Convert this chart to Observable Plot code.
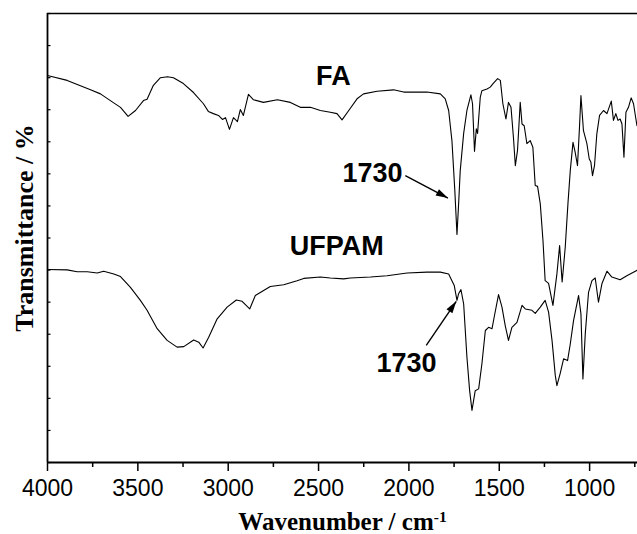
<!DOCTYPE html>
<html><head><meta charset="utf-8">
<script src="https://cdn.jsdelivr.net/npm/d3@7"></script>
<script src="https://cdn.jsdelivr.net/npm/@observablehq/plot@0.6"></script>
<style>body{margin:0;background:#fff} svg{display:block}</style>
</head><body><div id="chart"></div>
<script>
// FA spectrum (wavenumber cm^-1, transmittance a.u.)
const faWavenumber = [4000,3891,3762,3707,3652,3596,3554,3513,3469,3449,3414,3375,3336,3303,3248,3192,3137,3110,3082,3054,3032,3015,2993,2971,2949,2933,2916,2888,2861,2805,2728,2656,2601,2545,2490,2435,2398,2370,2333,2287,2251,2176,2085,2029,1955,1900,1826,1799,1780,1762,1746,1734,1724,1716,1697,1679,1657,1648,1637,1627,1620,1605,1596,1568,1550,1532,1509,1494,1480,1463,1449,1435,1421,1411,1399,1384,1374,1362,1347,1329,1314,1301,1288,1273,1258,1246,1227,1203,1181,1166,1152,1135,1120,1107,1092,1080,1067,1056,1048,1034,1015,1002,993,984,973,960,945,923,904,880,868,855,843,831,821,810,799,785,770,757,738];
const faTransmittance = [86.2,85.1,83.0,82.1,80.6,79.1,77.1,78.4,80.6,80.9,84.0,85.7,85.9,85.7,84.4,82.4,79.9,78.2,77.7,77.3,76.4,76.8,74.2,76.8,75.9,78.6,77.3,82.0,80.8,80.2,80.8,80.2,79.1,79.1,78.4,78.0,77.7,76.3,78.4,81.0,82.1,82.7,83.0,82.5,82.5,82.5,82.1,81.0,78.4,71.7,60.6,50.8,58.3,65.0,73.3,78.4,81.9,79.9,69.3,74.3,73.3,81.4,82.8,83.2,83.6,84.5,85.5,85.1,79.9,76.5,80.2,79.1,72.1,66.1,69.5,80.2,75.4,75.0,71.0,71.7,70.2,61.7,61.5,57.6,49.4,40.5,39.9,35.0,42.0,48.3,40.2,47.9,57.6,65.0,71.3,69.1,66.1,74.7,81.7,73.9,71.0,67.6,66.9,63.9,66.1,73.2,77.3,78.4,77.7,80.5,76.2,77.7,76.2,76.5,75.4,68.0,78.0,79.1,81.2,79.9,75.0];

// UFPAM spectrum
const ufpamWavenumber = [4000,3891,3836,3780,3725,3689,3633,3596,3541,3486,3449,3393,3338,3283,3246,3191,3163,3139,3108,3061,3006,2955,2923,2881,2850,2804,2767,2693,2619,2582,2490,2435,2361,2324,2213,2121,2010,1900,1826,1780,1762,1749,1734,1725,1712,1697,1679,1664,1651,1633,1614,1596,1577,1559,1540,1528,1504,1485,1467,1449,1430,1402,1374,1356,1319,1301,1273,1246,1227,1208,1190,1181,1163,1144,1122,1107,1089,1061,1048,1037,1024,1006,987,969,951,932,904,877,831,794,737];
const ufpamTransmittance = [43.0,42.9,42.5,42.5,42.2,42.6,42.0,41.4,39.0,36.1,33.9,29.8,27.2,25.7,25.8,27.3,26.8,25.5,27.9,32.0,34.6,36.2,35.9,34.2,37.2,38.3,39.2,39.6,40.5,41.0,41.3,41.1,40.9,41.1,41.3,41.6,42.2,42.4,42.4,42.0,40.5,39.4,36.1,37.6,38.5,35.3,23.5,16.0,11.6,16.0,16.4,22.0,29.4,30.1,29.8,32.4,37.4,34.6,30.5,27.2,30.1,31.2,35.0,34.2,33.9,33.2,34.6,36.1,33.5,27.2,19.4,17.1,19.8,23.1,22.7,26.4,31.6,37.2,33.1,18.6,28.7,37.9,40.5,41.1,35.7,39.8,42.6,41.3,40.7,41.6,42.8];

// Axis ticks
const xMajorTicks = [4000,3500,3000,2500,2000,1500,1000];
const xMinorTicks = [3750,3250,2750,2250,1750,1250,750];
const yTicks = [0,7.14,14.29,21.43,28.57,35.71,42.86,50,57.14,64.29,71.43,78.57,85.71,92.86,100];

// Annotations
const labelTexts = ["FA","1730","UFPAM","1730"];
const labelWavenumber = [2418,2201,2399,2013];
const labelTransmittance = [85.9,64.4,48.1,22.1];
const arrowFromWavenumber = [2020,1904];
const arrowFromTransmittance = [63.9,26.1];
const arrowToWavenumber = [1784,1738];
const arrowToTransmittance = [58.9,35.9];

const fa = faWavenumber.map((w,i)=>({w, t: faTransmittance[i]}));
const ufpam = ufpamWavenumber.map((w,i)=>({w, t: ufpamTransmittance[i]}));
const labels = labelTexts.map((s,i)=>({s, w: labelWavenumber[i], t: labelTransmittance[i]}));
const arrows = arrowFromWavenumber.map((w,i)=>({x1: w, y1: arrowFromTransmittance[i], x2: arrowToWavenumber[i], y2: arrowToTransmittance[i]}));

const headSymbol = {draw(ctx, size){ const L = Math.sqrt(size); ctx.moveTo(0,0); ctx.lineTo(-0.3*L, L); ctx.lineTo(0.3*L, L); ctx.closePath(); }};

function build(angles){
  return Plot.plot({
    width: 637, height: 534,
    marginLeft: 47, marginRight: 0, marginTop: 13, marginBottom: 72,
    style: {fontFamily: "Liberation Sans, Arial, sans-serif", fontSize: "23px", color: "#000", background: "#fff"},
    x: {domain: [4000, 735], label: null},
    y: {domain: [0, 100], label: null},
    marks: [
      Plot.axisX(xMajorTicks, {tickSize: 9, tickPadding: 8, tickFormat: d => String(d), fontSize: 23, strokeWidth: 1.5, label: null}),
      Plot.axisX(xMinorTicks, {tickSize: 5, tickFormat: () => "", strokeWidth: 1.5, label: null}),
      Plot.axisY(yTicks, {tickSize: -3.5, tickFormat: () => "", strokeWidth: 1.2, label: null}),
      Plot.ruleY([0], {stroke: "#000", strokeWidth: 1.8}),
      Plot.ruleY([100], {stroke: "#000", strokeWidth: 1.6}),
      Plot.ruleX([4000], {stroke: "#000", strokeWidth: 1.8}),
      Plot.line(fa, {x: "w", y: "t", stroke: "#000", strokeWidth: 1.1}),
      Plot.line(ufpam, {x: "w", y: "t", stroke: "#000", strokeWidth: 1.1}),
      Plot.link(arrows, {x1: "x1", y1: "y1", x2: "x2", y2: "y2", stroke: "#000", strokeWidth: 1.4}),
      Plot.dot(arrows, {x: "x2", y: "y2", symbol: headSymbol, r: 6.8, fill: "#000", stroke: null, rotate: (d,i) => angles[i]}),
      Plot.text(labels, {x: "w", y: "t", text: "s", fontSize: 27, fontWeight: "bold", fontFamily: "Liberation Sans, Arial, sans-serif", fill: "#000"}),
      Plot.text(["Transmittance / %"], {frameAnchor: "left", textAnchor: "middle", rotate: -90, dx: -23.3, dy: -10, fontSize: 26, fontWeight: "bold", fontFamily: "Liberation Serif, Times New Roman, serif", fill: "#000"}),
      Plot.text(["Wavenumber / cm"], {frameAnchor: "bottom", textAnchor: "middle", lineAnchor: "bottom", dy: 67, fontSize: 25, fontWeight: "bold", fontFamily: "Liberation Serif, Times New Roman, serif", fill: "#000"})
    ]
  });
}

const first = build([0,0]);
const sx = first.scale("x"), sy = first.scale("y");
const angles = arrows.map(a => {
  const dx = sx.apply(a.x2) - sx.apply(a.x1);
  const dy = sy.apply(a.y2) - sy.apply(a.y1);
  return Math.atan2(dx, -dy) * 180 / Math.PI;
});
const chart = build(angles);
d3.select(chart).selectAll("text").filter(function(){ return this.textContent === "Wavenumber / cm"; })
  .append("tspan").attr("dy", "-0.5em").attr("font-size", "0.62em").text("-1");
document.getElementById("chart").appendChild(chart);
</script>
</body></html>
